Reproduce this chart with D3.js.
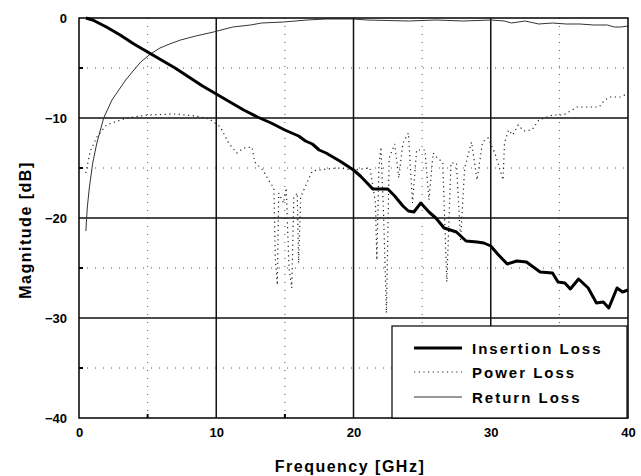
<!DOCTYPE html>
<html><head><meta charset="utf-8">
<script src="https://cdn.jsdelivr.net/npm/d3@7"></script>
<style>
html,body{margin:0;padding:0;background:#fff;}
svg{display:block;}
text{font-family:"Liberation Sans",Arial,sans-serif;font-weight:bold;fill:#000;}
</style></head>
<body>
<script>
// ---- data ----
const xTicks = [0, 10, 20, 30, 40];
const yTicks = [0, -10, -20, -30, -40];
const xMinor = [5, 15, 25, 35];
const yMinor = [-5, -15, -25, -35];
const seriesNames = ["Insertion Loss", "Power Loss", "Return Loss"];

const insertionFreq = [0.5,1,2,3,4,5,6,7,8,9,10,11,12,13,14,15,16,16.5,17,17.5,18,19,20,20.5,21.2,21.4,22.5,23,23.6,24,24.4,24.9,25.5,26,26.6,27.5,28.2,29,29.5,30,30.5,31.2,31.9,32.6,33.6,34.5,34.9,35.4,35.8,36.4,37.1,37.7,38.2,38.6,39.2,39.6,40];
const insertionDb  = [0,-0.2,-0.9,-1.7,-2.6,-3.4,-4.2,-5.0,-5.9,-6.8,-7.6,-8.4,-9.2,-9.9,-10.5,-11.2,-11.8,-12.3,-12.6,-13.2,-13.5,-14.3,-15.2,-15.8,-16.8,-17.1,-17.1,-17.8,-18.8,-19.3,-19.4,-18.5,-19.4,-20.0,-21.0,-21.4,-22.3,-22.4,-22.5,-22.8,-23.6,-24.6,-24.3,-24.4,-25.4,-25.5,-26.4,-26.5,-27.1,-26.1,-27.0,-28.5,-28.4,-29.0,-27.0,-27.4,-27.2];

const powerFreq = [0.5,0.8,1.3,2.0,2.6,3.5,5,7,8.5,9.5,10.3,10.9,11.5,12.0,12.6,12.8,13.4,13.8,14.2,14.3,14.45,14.55,14.9,15.1,15.3,15.5,15.65,15.9,16.0,16.15,16.6,17,18,19,20,21.2,21.6,21.7,21.85,22.0,22.2,22.4,22.6,23.0,23.3,23.6,24.0,24.3,24.6,25.2,25.5,25.8,26.1,26.5,26.8,27.1,27.5,27.8,28.1,28.6,29.0,29.4,29.8,30.3,30.9,31.0,31.3,31.6,32.0,32.4,33.0,33.5,34.5,35.3,36.3,37.0,37.9,38.3,38.7,39.5,40];
const powerDb   = [-15.5,-13.4,-11.9,-10.7,-10.4,-10.0,-9.7,-9.6,-9.8,-10.1,-10.9,-12.5,-13.5,-13.0,-12.9,-14.4,-15.2,-16.2,-17.0,-24.0,-26.7,-17.5,-18.5,-17.0,-25.0,-27.0,-18.0,-17.5,-24.5,-17.9,-16.5,-15.3,-15.1,-15.0,-15.2,-15.0,-18.5,-24.2,-15.0,-12.9,-20.0,-29.5,-14.0,-12.6,-16.0,-12.5,-11.5,-18.5,-13.2,-13.2,-18.2,-13.5,-14.0,-14.4,-26.4,-14.5,-14.5,-22.2,-15.0,-12.4,-16.2,-12.4,-12.0,-13.5,-16.2,-12.5,-11.2,-11.7,-10.7,-11.3,-11.2,-10.2,-9.7,-9.7,-8.9,-8.9,-8.9,-8.2,-7.9,-7.9,-7.5];

const returnFreq = [0.5,0.6,0.75,1.0,1.3,1.8,2.4,3.0,3.4,4.0,4.5,5.2,5.9,6.6,7.4,8.5,9.8,11.2,12.5,13.3,14.9,16.6,18,20,21,24,26,28,30,31,31.5,32.5,33.5,34.5,35.5,36.5,37.5,38.5,39,39.5,40];
const returnDb   = [-21.3,-19,-17,-14.5,-12.5,-10.0,-8.2,-7.0,-6.2,-5.2,-4.4,-3.6,-3.0,-2.6,-2.2,-1.8,-1.4,-0.9,-0.7,-0.5,-0.4,-0.2,-0.1,-0.1,-0.2,-0.3,-0.2,-0.3,-0.2,-0.3,-0.5,-0.3,-0.6,-0.5,-0.6,-0.6,-0.7,-0.7,-0.9,-0.9,-0.8];

// ---- chart ----
const W = 641, H = 476;
const L = 79, R = 628, T = 18, B = 418;
const svg = d3.select("body").append("svg").attr("width", W).attr("height", H);
const x = d3.scaleLinear().domain([0, 40]).range([L, R]);
const y = d3.scaleLinear().domain([-40, 0]).range([B, T]);

// minor dotted grid
const g = svg.append("g");
g.selectAll(".vminor").data(xMinor).enter().append("line")
  .attr("x1", d => x(d)).attr("x2", d => x(d)).attr("y1", T).attr("y2", B)
  .attr("stroke", "#555").attr("stroke-width", 1).attr("stroke-dasharray", "1,7");
g.selectAll(".hminor").data(yMinor).enter().append("line")
  .attr("y1", d => y(d)).attr("y2", d => y(d)).attr("x1", L).attr("x2", R)
  .attr("stroke", "#555").attr("stroke-width", 1).attr("stroke-dasharray", "1,7");
// major grid
g.selectAll(".vmajor").data(xTicks.slice(1, -1)).enter().append("line")
  .attr("x1", d => x(d)).attr("x2", d => x(d)).attr("y1", T).attr("y2", B)
  .attr("stroke", "#111").attr("stroke-width", 1.5);
g.selectAll(".hmajor").data(yTicks.slice(1, -1)).enter().append("line")
  .attr("y1", d => y(d)).attr("y2", d => y(d)).attr("x1", L).attr("x2", R)
  .attr("stroke", "#111").attr("stroke-width", 1.5);

// inner minor ticks
g.selectAll(".xt").data(xMinor).enter().append("line")
  .attr("x1", d => x(d)).attr("x2", d => x(d)).attr("y1", B).attr("y2", B - 4)
  .attr("stroke", "#000").attr("stroke-width", 2);
g.selectAll(".yt").data(yMinor).enter().append("line")
  .attr("y1", d => y(d)).attr("y2", d => y(d)).attr("x1", L).attr("x2", L + 4)
  .attr("stroke", "#000").attr("stroke-width", 2);

// lines
const line = d3.line().x(d => x(d[0])).y(d => y(d[1]));
const zip = (a, b) => a.map((v, i) => [v, b[i]]);

svg.append("path").datum(zip(returnFreq, returnDb)).attr("d", line)
  .attr("fill", "none").attr("stroke", "#333").attr("stroke-width", 1);
svg.append("path").datum(zip(powerFreq, powerDb)).attr("d", line)
  .attr("fill", "none").attr("stroke", "#222").attr("stroke-width", 1.2).attr("stroke-dasharray", "1.2,3.5");
svg.append("path").datum(zip(insertionFreq, insertionDb)).attr("d", line)
  .attr("fill", "none").attr("stroke", "#000").attr("stroke-width", 3).attr("stroke-linejoin", "round");

// frame
svg.append("rect").attr("x", L).attr("y", T).attr("width", R - L).attr("height", B - T)
  .attr("fill", "none").attr("stroke", "#000").attr("stroke-width", 1.5);

// axes (labels only)
const xAxis = svg.append("g").attr("transform", `translate(0,${B})`)
  .call(d3.axisBottom(x).tickValues(xTicks).tickSize(0).tickPadding(10).tickFormat(d3.format("d")));
xAxis.select(".domain").remove();
xAxis.selectAll("text").attr("font-size", 13).attr("font-family", "Liberation Sans, Arial, sans-serif").attr("font-weight", "bold");

const yAxis = svg.append("g").attr("transform", `translate(${L},0)`)
  .call(d3.axisLeft(y).tickValues(yTicks).tickSize(0).tickPadding(12).tickFormat(d3.format("d")));
yAxis.select(".domain").remove();
yAxis.selectAll("text").attr("font-size", 13).attr("font-family", "Liberation Sans, Arial, sans-serif").attr("font-weight", "bold");

// axis titles
svg.append("text").attr("x", 350).attr("y", 472).attr("text-anchor", "middle")
  .attr("font-size", 16).attr("letter-spacing", 1.5).text("Frequency [GHz]");
svg.append("text").attr("transform", "translate(31,230) rotate(-90)").attr("text-anchor", "middle")
  .attr("font-size", 16).attr("letter-spacing", 1.5).text("Magnitude [dB]");

// legend
const lg = svg.append("g");
lg.append("rect").attr("x", 392).attr("y", 326).attr("width", 235).attr("height", 92)
  .attr("fill", "#fff").attr("stroke", "#000").attr("stroke-width", 1.2);
const legYs = [348, 372, 397];
const legStyles = [
  {w: 3, c: "#000", dash: null},
  {w: 1.2, c: "#222", dash: "1.2,3.5"},
  {w: 1.2, c: "#333", dash: null}
];
seriesNames.forEach((n, i) => {
  const s = legStyles[i];
  const ln = lg.append("line").attr("x1", 414).attr("x2", 462).attr("y1", legYs[i]).attr("y2", legYs[i])
    .attr("stroke", s.c).attr("stroke-width", s.w);
  if (s.dash) ln.attr("stroke-dasharray", s.dash);
  lg.append("text").attr("x", 472).attr("y", legYs[i] + 6).attr("font-size", 15)
    .attr("letter-spacing", 2).text(n);
});
</script>
</body></html>
